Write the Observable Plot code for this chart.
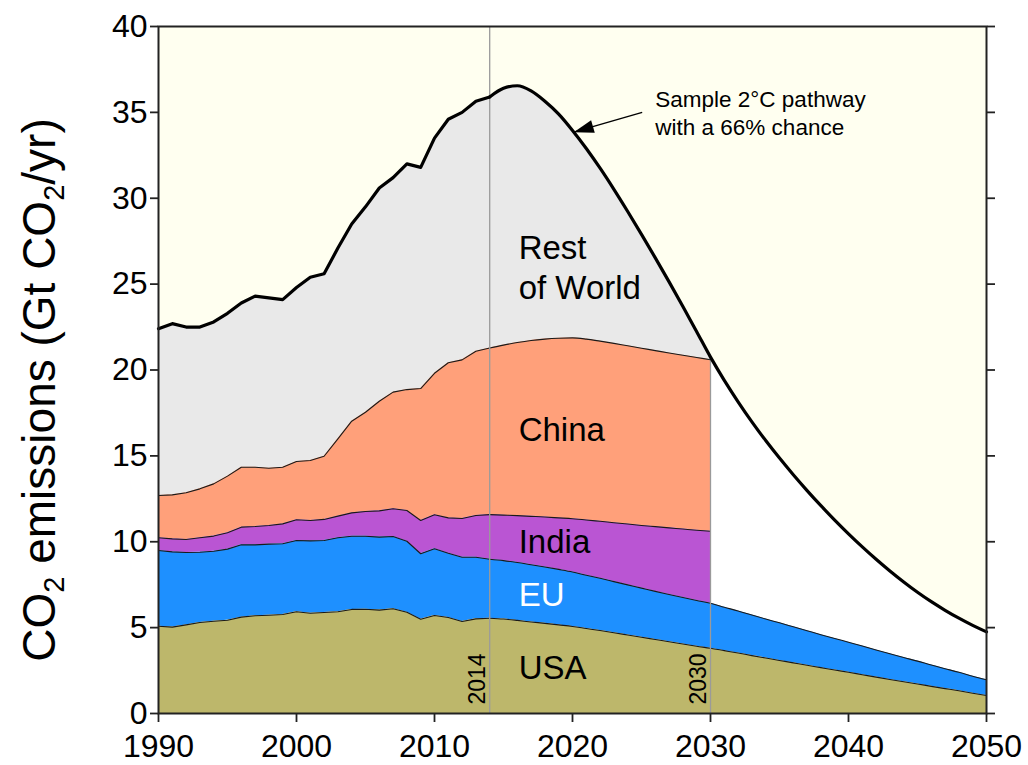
<!DOCTYPE html>
<html>
<head>
<meta charset="utf-8">
<script src="https://cdn.jsdelivr.net/npm/d3@7"></script>
<script src="https://cdn.jsdelivr.net/npm/@observablehq/plot@0.6"></script>
<style>
  body { margin: 0; background: #ffffff; }
  #chart svg { display: block; }
</style>
</head>
<body>
<div id="chart"></div>
<script>
// ---------------- data (Gt CO2 / yr), one value per year ----------------
const years = d3.range(1990, 2051); // 1990 .. 2050

// USA (1990-2050)
const usa = [
  5.08, 5.03, 5.16, 5.30, 5.37, 5.43, 5.61, 5.69, 5.72, 5.76,
  5.92, 5.84, 5.88, 5.92, 6.06, 6.07, 6.02, 6.10, 5.90, 5.49,
  5.71, 5.59, 5.36, 5.51, 5.55,
  5.50, 5.42, 5.33, 5.25, 5.16, 5.07, 4.95, 4.83, 4.70, 4.57,
  4.44, 4.31, 4.18, 4.05, 3.92, 3.80,
  3.66, 3.52, 3.37, 3.23, 3.09, 2.95, 2.81, 2.67, 2.53, 2.40,
  2.26, 2.12, 1.98, 1.85, 1.72, 1.58, 1.45, 1.32, 1.18, 1.05
];

// EU (1990-2050)
const eu = [
  4.41, 4.38, 4.21, 4.09, 4.08, 4.14, 4.21, 4.13, 4.14, 4.12,
  4.15, 4.21, 4.19, 4.31, 4.26, 4.25, 4.25, 4.21, 4.13, 3.81,
  3.88, 3.74, 3.74, 3.59, 3.43,
  3.40, 3.37, 3.33, 3.28, 3.23, 3.17, 3.10, 3.04, 2.98, 2.92,
  2.86, 2.80, 2.75, 2.70, 2.66, 2.62,
  2.53, 2.45, 2.36, 2.27, 2.19, 2.10, 2.01, 1.92, 1.84, 1.75,
  1.67, 1.58, 1.50, 1.41, 1.33, 1.24, 1.16, 1.08, 0.99, 0.91
];

// India (1990-2030)
const india = [
  0.74, 0.76, 0.76, 0.84, 0.88, 0.95, 1.03, 1.07, 1.09, 1.16,
  1.21, 1.19, 1.23, 1.26, 1.36, 1.44, 1.53, 1.61, 1.79, 1.94,
  1.98, 2.06, 2.25, 2.43, 2.60,
  2.65, 2.73, 2.82, 2.91, 3.00, 3.10, 3.22, 3.32, 3.43, 3.54,
  3.65, 3.77, 3.88, 3.99, 4.09, 4.19
];

// China (1990-2030)
const china = [
  2.46, 2.56, 2.72, 2.85, 3.04, 3.30, 3.49, 3.45, 3.33, 3.30,
  3.39, 3.49, 3.68, 4.50, 5.34, 5.78, 6.38, 6.79, 7.04, 7.68,
  8.24, 9.03, 9.24, 9.56, 9.70,
  9.90, 10.08, 10.24, 10.36, 10.46, 10.53, 10.53, 10.49, 10.44, 10.38,
  10.32, 10.25, 10.18, 10.12, 10.06, 9.99
];

// World total, sample 2°C pathway (66% chance) (1990-2050)
const total = [
  22.4, 22.7, 22.5, 22.5, 22.8, 23.3, 23.9, 24.3, 24.2, 24.1,
  24.8, 25.4, 25.6, 27.1, 28.5, 29.5, 30.6, 31.2, 32.0, 31.8,
  33.5, 34.6, 35.0, 35.65, 35.9,
  36.4, 36.55, 36.25, 35.65, 34.9, 33.95, 32.9, 31.75, 30.52, 29.23,
  27.9, 26.53, 25.13, 23.7, 22.23, 20.75,
  19.4, 18.15, 16.98, 15.89, 14.87, 13.9, 12.98, 12.1, 11.26, 10.46,
  9.70, 8.98, 8.30, 7.66, 7.06, 6.51, 6.01, 5.55, 5.13, 4.75
];

const xTicks = [1990, 2000, 2010, 2020, 2030, 2040, 2050];
const yTicks = [0, 5, 10, 15, 20, 25, 30, 35, 40];
const historyEnd = 2014;
const regionEnd = 2030;

const regionLabels = ["Rest\nof World", "China", "India", "EU", "USA"];
const regionLabelY = [26.05, 16.6, 10.1, 7.0, 2.75];
const regionLabelColors = ["black", "black", "black", "white", "black"];
const regionLabelYear = 2016.1;

const noteText = "Sample 2°C pathway\nwith a 66% chance";
const noteYear = 2026.0, noteValue = 35.0;
const arrowTail = {year: 2025.05, value: 35.0};
const arrowTip = {year: 2020.09, value: 33.85};

const yTitle = "CO2 emissions (Gt CO2/yr)";

// ---------------- table built from the arrays ----------------
const rows = years.map((year, i) => {
  const usaTop = usa[i];
  const euTop = usaTop + eu[i];
  const r = {year, usaTop, euTop, total: total[i]};
  if (i < india.length) {
    r.indiaTop = euTop + india[i];
    r.chinaTop = r.indiaTop + china[i];
  }
  return r;
});
const total2030 = rows.find(d => d.year === regionEnd).total;

// observed years drawn with straight segments, projections with a smooth curve
const parts = [
  {all: rows.filter(d => d.year <= historyEnd), regions: rows.filter(d => d.year <= historyEnd), curve: "linear"},
  {all: rows.filter(d => d.year >= historyEnd), regions: rows.filter(d => d.year >= historyEnd && d.year <= regionEnd), curve: "monotone-x"}
];

const labelRows = regionLabels.map((t, i) => ({text: t, y: regionLabelY[i], color: regionLabelColors[i]}));

// arrowhead: filled, elongated triangle with its tip at the origin, pointing up
const headSymbol = {
  draw(context) {
    context.moveTo(0, 0);
    context.lineTo(-6.5, 20);
    context.lineTo(6.5, 20);
    context.closePath();
  }
};

const FONT = "'Liberation Sans', Arial, Helvetica, sans-serif";
const edge = "#1a1a1a";

const areaMarks = parts.flatMap(({all, regions, curve}) => [
  Plot.areaY(all, {x: "year", y1: 0, y2: "total", fill: "white", curve}),
  Plot.areaY(regions, {x: "year", y1: "chinaTop", y2: "total", fill: "#e9e9e9", curve}),
  Plot.areaY(regions, {x: "year", y1: "indiaTop", y2: "chinaTop", fill: "#ffa07a", curve}),
  Plot.areaY(regions, {x: "year", y1: "euTop", y2: "indiaTop", fill: "#ba55d3", curve}),
  Plot.areaY(all, {x: "year", y1: "usaTop", y2: "euTop", fill: "#1e90ff", curve}),
  Plot.areaY(all, {x: "year", y1: 0, y2: "usaTop", fill: "#bdb76b", curve})
]);
const edgeMarks = parts.flatMap(({all, regions, curve}) => [
  Plot.lineY(all, {x: "year", y: "usaTop", stroke: edge, strokeWidth: 1.1, curve}),
  Plot.lineY(all, {x: "year", y: "euTop", stroke: edge, strokeWidth: 1.1, curve}),
  Plot.lineY(regions, {x: "year", y: "indiaTop", stroke: edge, strokeWidth: 1.1, curve}),
  Plot.lineY(regions, {x: "year", y: "chinaTop", stroke: edge, strokeWidth: 1.1, curve})
]);
const totalMarks = parts.map(({all, curve}) =>
  Plot.lineY(all, {x: "year", y: "total", stroke: "black", strokeWidth: 3.2, curve, strokeLinejoin: "round"})
);

const chart = Plot.plot({
  width: 1028,
  height: 765,
  marginLeft: 158,
  marginRight: 42,
  marginTop: 26,
  marginBottom: 52,
  style: {fontFamily: FONT, fontSize: "32px", background: "white", color: "black"},
  x: {domain: [1990, 2050], nice: false},
  y: {domain: [0, 40], nice: false},
  marks: [
    Plot.frame({fill: "#fffff0", stroke: "none"}),
    ...areaMarks,
    ...edgeMarks,
    Plot.ruleX([historyEnd], {stroke: "#9a9a9a", strokeWidth: 1.3}),
    Plot.ruleX([regionEnd], {y1: 0, y2: total2030, stroke: "#9a9a9a", strokeWidth: 1.3}),
    ...totalMarks,
    Plot.text([historyEnd, regionEnd], {
      x: d => d, y: 0, text: d => String(d), rotate: -90, textAnchor: "start",
      dx: -12, dy: -9, fontSize: 23, fill: "black"
    }),
    Plot.text(labelRows, {
      x: () => regionLabelYear, y: "y", text: "text", fill: "color",
      textAnchor: "start", fontSize: 33, lineHeight: 1.21
    }),
    Plot.text([noteText], {
      x: () => noteYear, y: () => noteValue, text: d => d,
      textAnchor: "start", fontSize: 22.5, lineHeight: 1.22, fill: "black"
    }),
    Plot.link([0], {
      x1: () => arrowTail.year, y1: () => arrowTail.value,
      x2: () => arrowTip.year, y2: () => arrowTip.value,
      stroke: "black", strokeWidth: 1.4
    }),
    Plot.dot([0], {
      x: () => arrowTip.year, y: () => arrowTip.value,
      symbol: headSymbol, rotate: -106.3, fill: "black", stroke: "none", r: 5
    }),
    Plot.text([yTitle], {
      frameAnchor: "left", text: d => d, rotate: -90, textAnchor: "middle",
      dx: -118, dy: 20, fontSize: 46, fill: "black"
    }),
    Plot.axisX({
      ticks: xTicks, tickFormat: d => String(d), tickSize: 9, tickPadding: 12,
      fontSize: 32, stroke: "#222", strokeWidth: 1.8, label: null
    }),
    Plot.axisY({
      ticks: yTicks, tickFormat: d => String(d), tickSize: 8, tickPadding: 3,
      fontSize: 32, stroke: "#222", strokeWidth: 1.8, label: null
    }),
    Plot.axisY({
      anchor: "right", ticks: yTicks, tickFormat: () => "", tickSize: 8,
      stroke: "#222", strokeWidth: 1.8, label: null
    }),
    Plot.frame({stroke: "#222", strokeWidth: 2})
  ]
});

// render the "2" of CO2 as a subscript in the y-axis title
const titleNode = Array.from(chart.querySelectorAll("text")).find(t => t.textContent === yTitle);
if (titleNode) {
  const pieces = yTitle.split("2");
  while (titleNode.firstChild) titleNode.removeChild(titleNode.firstChild);
  const ns = "http://www.w3.org/2000/svg";
  pieces.forEach((p, i) => {
    const t = document.createElementNS(ns, "tspan");
    t.textContent = p;
    if (i > 0) t.setAttribute("dy", "-9");
    titleNode.appendChild(t);
    if (i < pieces.length - 1) {
      const s = document.createElementNS(ns, "tspan");
      s.textContent = "2";
      s.setAttribute("font-size", "29");
      s.setAttribute("dy", "9");
      titleNode.appendChild(s);
    }
  });
}

document.getElementById("chart").appendChild(chart);
</script>
</body>
</html>
